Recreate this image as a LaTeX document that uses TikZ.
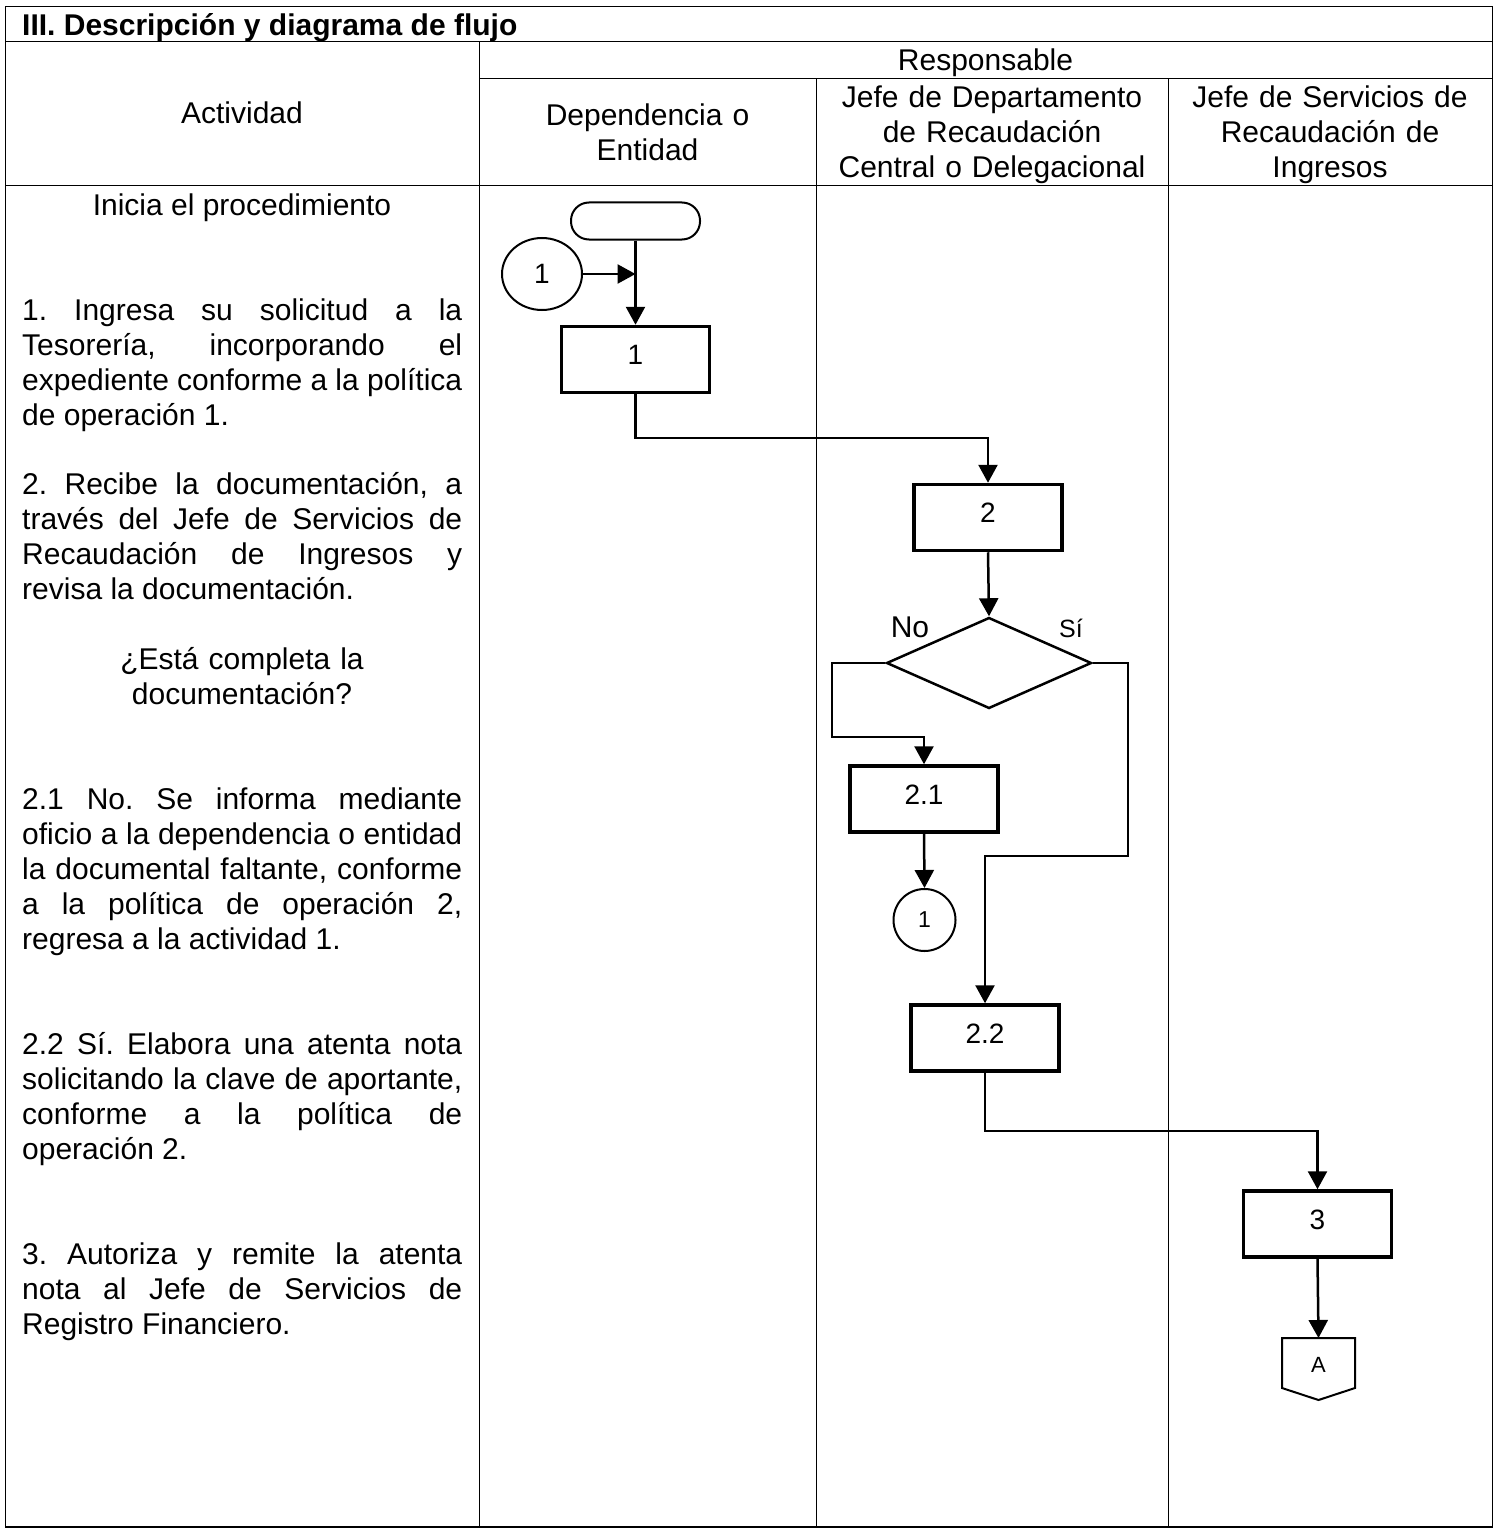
\documentclass[tikz,border=0pt]{standalone}
\usepackage{fontspec}
\setmainfont{Liberation Sans}
\usetikzlibrary{arrows.meta,shapes.geometric}
\tolerance=9999
\hyphenpenalty=10000
\frenchspacing
\begin{document}
\begin{tikzpicture}[x=1pt,y=-1pt,
  tbl/.style={line width=1pt},
  body/.style={font=\fontsize{30}{35}\selectfont, inner sep=0pt},
  desc/.style={body, text width=440pt, align=justify, anchor=base west},
  hdr/.style={body, align=center, anchor=base},
  proc/.style={draw, line width=3.5pt, minimum width=148pt, minimum height=66pt,
    inner sep=0pt, text depth=9pt, font=\fontsize{28}{30}\selectfont},
  conn/.style={draw, line width=2pt, inner sep=0pt},
  flow/.style={line width=2.5pt, -{Triangle[length=18pt,width=19pt]}},
  lbl/.style={inner sep=0pt, anchor=base}
]
\useasboundingbox (0,0) rectangle (1497,1533);
% table
\draw[tbl] (5,7) rectangle (1492,1527);
\draw[tbl] (5,42) -- (1492,42);
\draw[tbl] (479,79) -- (1492,79);
\draw[tbl] (5,186) -- (1492,186);
\draw[tbl] (479,42) -- (479,1527);
\draw[tbl] (816,79) -- (816,1527);
\draw[tbl] (1168,79) -- (1168,1527);
\draw[line width=2.2pt] (5,1527) -- (1492,1527);
% header texts
\node[body, font=\bfseries\fontsize{30}{35}\selectfont, anchor=base west] (title) at (22,36) {III. Descripción y diagrama de flujo};
\node[hdr] (act) at (242,124) {Actividad};
\node[hdr] (resp) at (985.5,71) {Responsable};
\node[hdr, text width=330pt] (dep) at (647.5,126) {Dependencia o\\Entidad};
\node[hdr, text width=350pt] (jdep) at (992,108) {Jefe de Departamento\\de Recaudación\\Central o Delegacional};
\node[hdr, text width=320pt] (jser) at (1330,108) {Jefe de Servicios de\\Recaudación de\\Ingresos};
% description texts
\node[hdr] (t0) at (242,215) {Inicia el procedimiento};
\node[desc] (t1) at (22,320) {1. Ingresa su solicitud a la\linebreak Tesorería, incorporando el\linebreak expediente conforme a la política\linebreak de operación 1.};
\node[desc] (t2) at (22,494) {2. Recibe la documentación, a\linebreak través del Jefe de Servicios de\linebreak Recaudación de Ingresos y\linebreak revisa la documentación.};
\node[hdr, text width=440pt] (tq) at (242,669) {¿Está completa la\\documentación?};
\node[desc] (t21) at (22,809) {2.1 No. Se informa mediante\linebreak oficio a la dependencia o entidad\linebreak la documental faltante, conforme\linebreak a la política de operación 2,\linebreak regresa a la actividad 1.};
\node[desc] (t22) at (22,1054) {2.2 Sí. Elabora una atenta nota\linebreak solicitando la clave de aportante,\linebreak conforme a la política de\linebreak operación 2.};
\node[desc] (t3) at (22,1264) {3. Autoriza y remite la atenta\linebreak nota al Jefe de Servicios de\linebreak Registro Financiero.};
% flow nodes
\node[draw, line width=2pt, rounded corners=18pt, minimum width=129pt, minimum height=37pt] (start) at (635.5,221) {};
\node[conn, ellipse, minimum width=80pt, minimum height=72pt, font=\fontsize{28}{30}\selectfont] (c1) at (542,274) {1};
\node[proc] (b1) at (635.5,359.5) {1};
\node[proc] (b2) at (988,517.5) {2};
\node[draw, diamond, line width=2.5pt, inner sep=0pt, minimum width=205pt, minimum height=91pt, aspect=2.25] (d) at (989,663) {};
\node[proc] (b21) at (924,799) {2.1};
\node[conn, circle, minimum size=62pt, font=\fontsize{23}{25}\selectfont] (c2) at (924.5,920) {1};
\node[proc] (b22) at (985,1038) {2.2};
\node[proc] (b3) at (1317.5,1224) {3};
\node[lbl, font=\fontsize{30}{32}\selectfont] (no) at (910,637) {No};
\node[lbl, font=\fontsize{25}{27}\selectfont] (si) at (1071,637) {Sí};
\node[lbl, font=\fontsize{22}{24}\selectfont] (offA) at (1318.5,1372) {A};
\draw[line width=2pt] (1282,1338) -- (1355,1338) -- (1355,1388) -- (1318.5,1400) -- (1282,1388) -- cycle;
\coordinate (offtop) at (1318.5,1338);
\coordinate (j1) at (635.5,274);
% connectors
\draw[flow] (start.south) -- (b1.north);
\draw[flow] (c1.east) -- (j1);
\draw[flow] (b1.south) -- (635.5,438) -| (b2.north);
\draw[flow] (b2.south) -- (d.north);
\draw[flow] (d.west) -- (832,663) -- (832,737) -| (b21.north);
\draw[flow] (b21.south) -- (c2.north);
\draw[flow] (d.east) -- (1128,663) -- (1128,856) -| (b22.north);
\draw[flow] (b22.south) -- (985,1131) -| (b3.north);
\draw[flow] (b3.south) -- (offtop);
\end{tikzpicture}
\end{document}
